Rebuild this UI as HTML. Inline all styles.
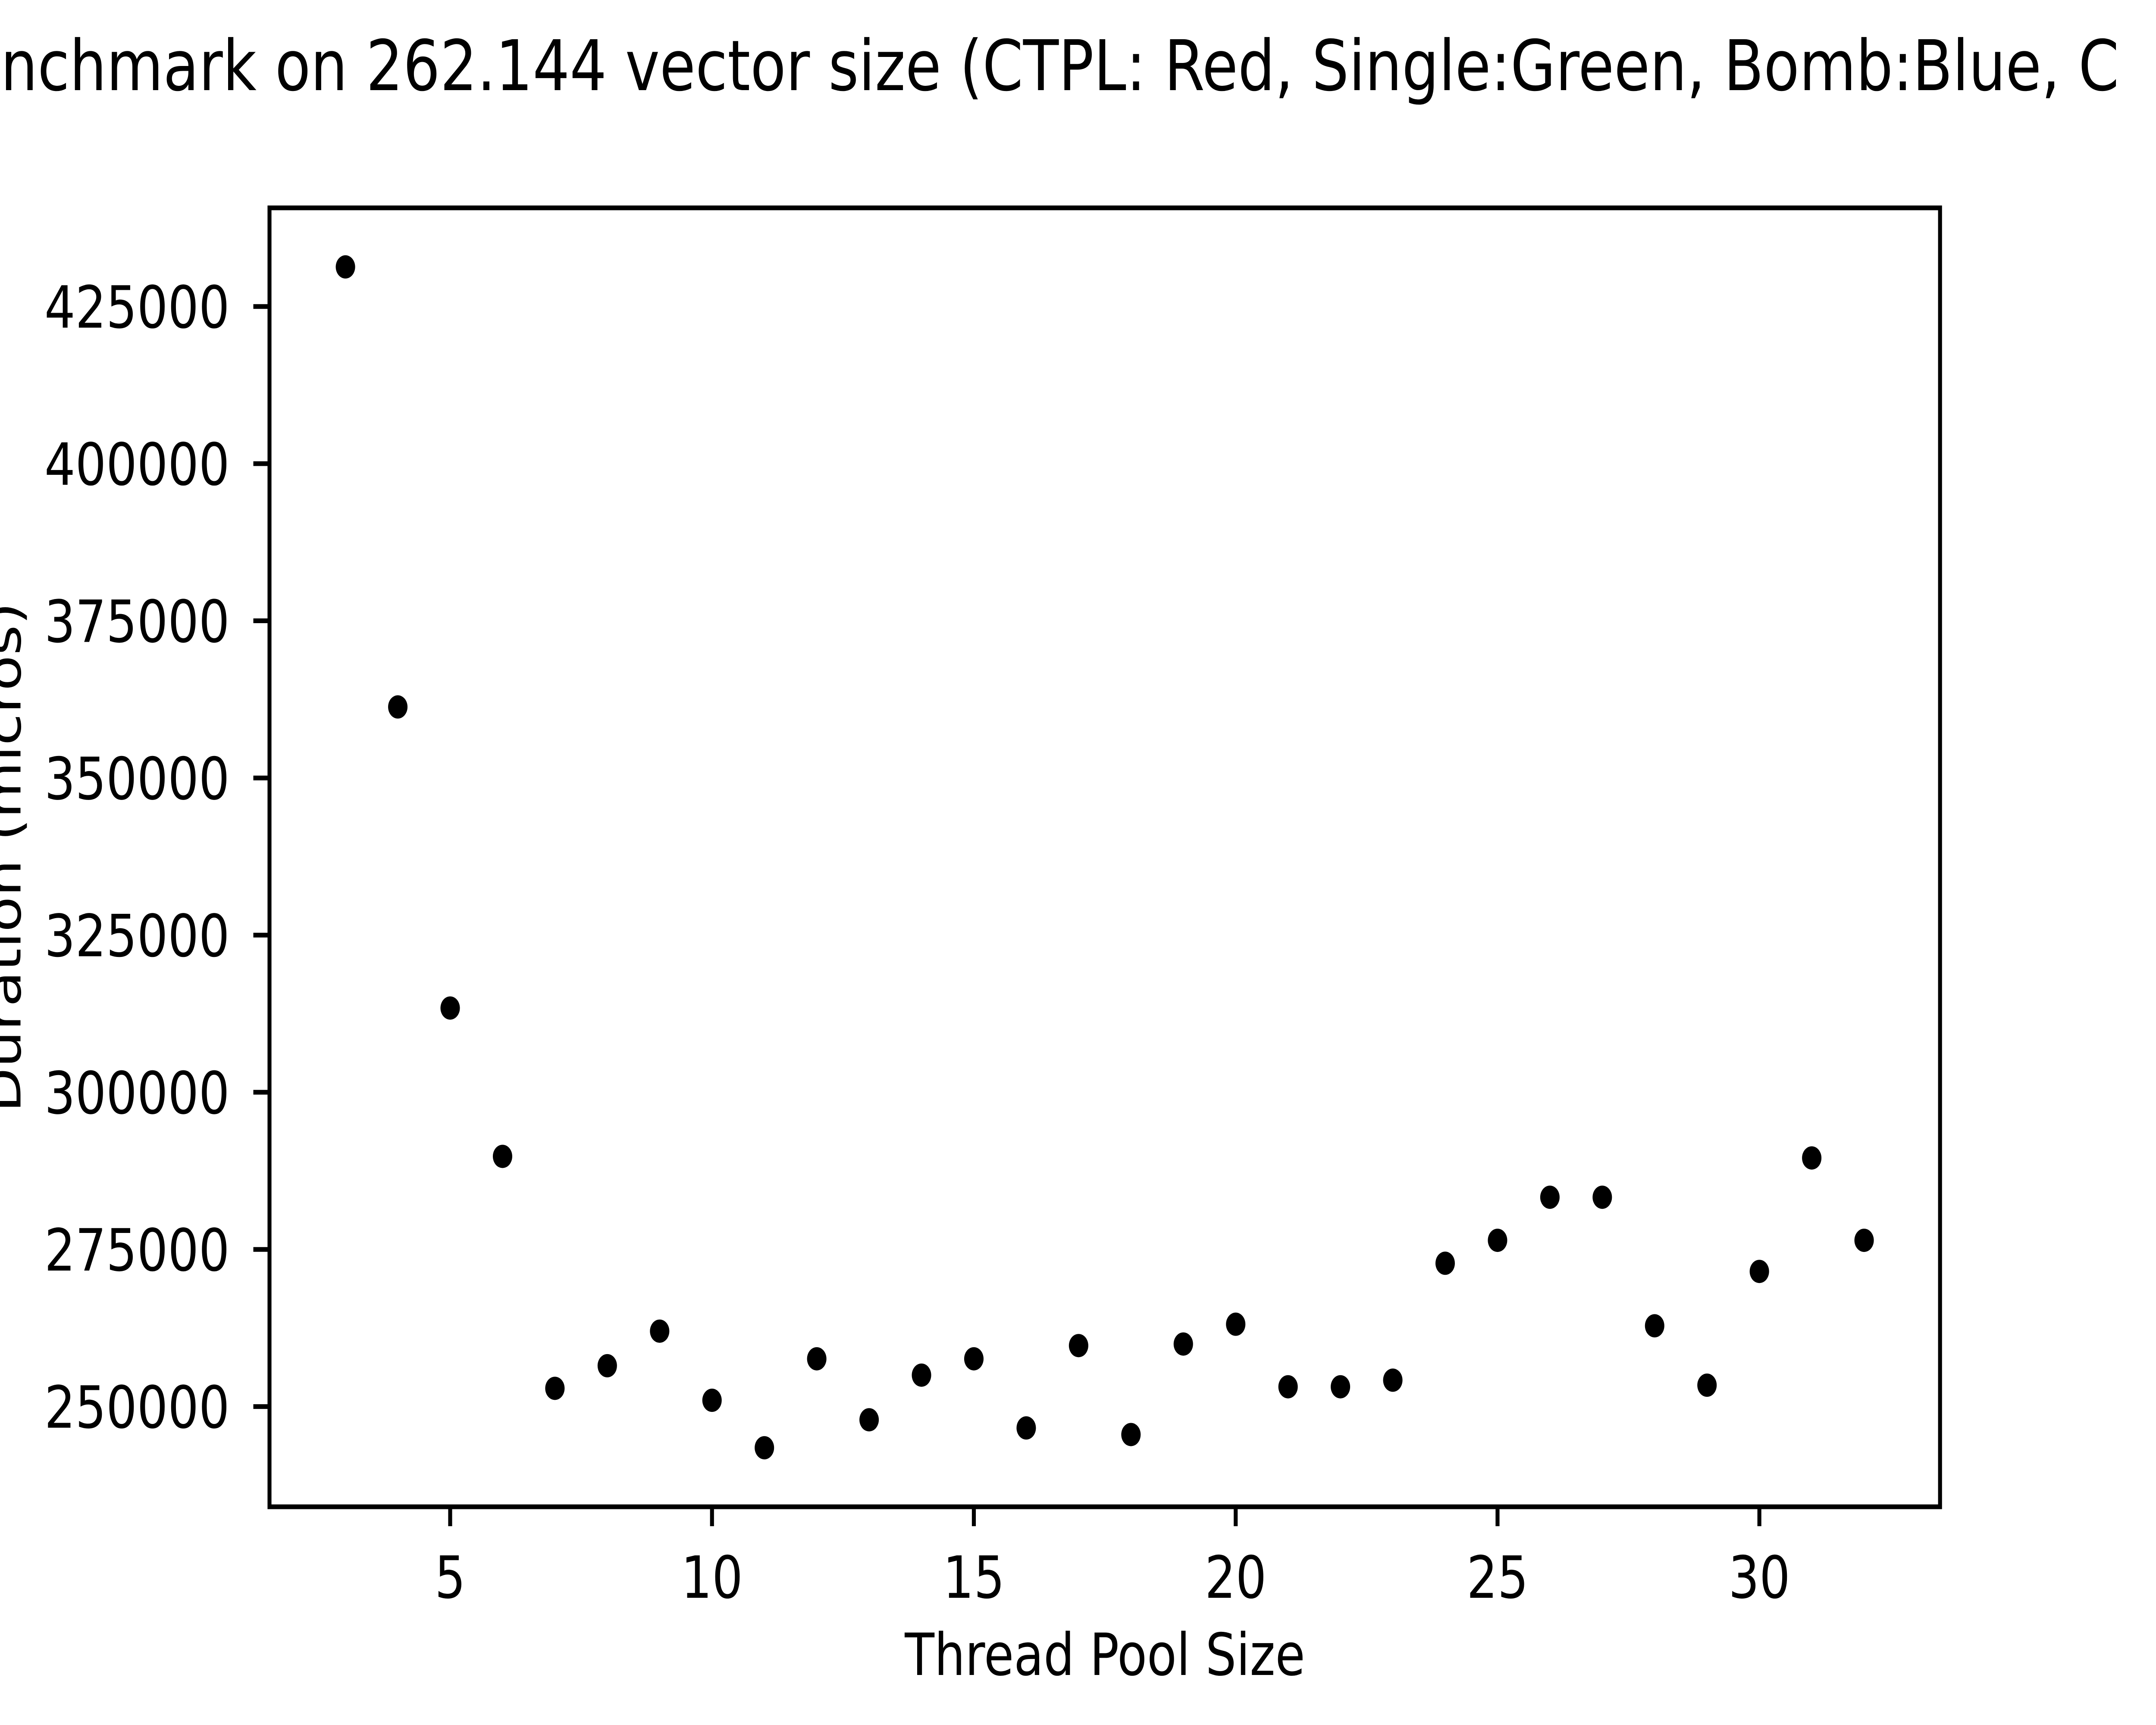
<!DOCTYPE html>
<html><head><meta charset="utf-8"><style>
html,body{margin:0;padding:0;background:#fff;overflow:hidden;width:100vw;height:100vh}
svg{display:block;overflow:hidden;width:100vw;height:100vh}
text{font-family:"DejaVu Sans","Liberation Sans",sans-serif;fill:#000}
</style></head><body>
<svg id="chart" viewBox="0 0 6000 4000" preserveAspectRatio="none" xmlns="http://www.w3.org/2000/svg">
<rect x="0" y="0" width="6000" height="4000" fill="#fff"/>
<text x="2" y="209" font-size="162" text-anchor="start">nchmark on 262.144 vector size (CTPL: Red, Single:Green, Bomb:Blue, C</text>
<g id="xticks"></g>
<g id="yticks"></g>
<g id="points"></g>
<rect x="750" y="482" width="4649" height="3012" fill="none" stroke="#000" stroke-width="11"/>
<text x="3075" y="3884" font-size="135" text-anchor="middle">Thread Pool Size</text>
<text transform="translate(57,1988) rotate(-90)" font-size="135" text-anchor="middle">Duration (micros)</text>
</svg>
<script>
const threadCounts = [3,4,5,6,7,8,9,10,11,12,13,14,15,16,17,18,19,20,21,22,23,24,25,26,27,28,29,30,31,32];
const durations = [431300,361300,313400,289800,252900,256500,262000,251000,243450,257600,247900,255000,257600,246600,259700,245550,259950,263100,253150,253150,254200,272800,276450,283300,283300,262850,253400,271500,289550,276450];
const xTickValues = [5,10,15,20,25,30];
const yTickValues = [250000,275000,300000,325000,350000,375000,400000,425000];

const NS = "http://www.w3.org/2000/svg";
const L = 750, R = 5399, T = 482, B = 3494;
const xmin0 = Math.min(...threadCounts), xmax0 = Math.max(...threadCounts);
const ymin0 = Math.min(...durations), ymax0 = Math.max(...durations);
const xm = (xmax0 - xmin0) * 0.05, ym = (ymax0 - ymin0) * 0.05;
const xlo = xmin0 - xm, xhi = xmax0 + xm, ylo = ymin0 - ym, yhi = ymax0 + ym;
const xs = v => L + (v - xlo) / (xhi - xlo) * (R - L);
const ys = v => B - (v - ylo) / (yhi - ylo) * (B - T);

function mk(tag, attrs, parent) {
  const e = document.createElementNS(NS, tag);
  for (const k in attrs) e.setAttribute(k, attrs[k]);
  parent.appendChild(e);
  return e;
}
const gx = document.getElementById('xticks');
xTickValues.forEach(v => {
  const x = xs(v);
  const t = mk('line', {x1: x, x2: x, y1: B, y2: B + 45, stroke: '#000', 'stroke-width': 11}, gx);
  
  
  const l = mk('text', {x: x, y: 3705, 'font-size': 135, 'text-anchor': 'middle'}, gx);
  l.textContent = String(v);
  
  
});
const gy = document.getElementById('yticks');
yTickValues.forEach(v => {
  const y = ys(v);
  const t = mk('line', {x1: L - 45, x2: L, y1: y, y2: y, stroke: '#000', 'stroke-width': 11}, gy);
  
  
  const l = mk('text', {x: 639, y: y + 49, 'font-size': 135, 'text-anchor': 'end'}, gy);
  l.textContent = String(v);
  
  
});
const gp = document.getElementById('points');
threadCounts.forEach((c, i) => {
  const p = mk('circle', {cx: xs(c), cy: ys(durations[i]), r: 27, fill: '#000'}, gp);
  
  
});
</script>
</body></html>
